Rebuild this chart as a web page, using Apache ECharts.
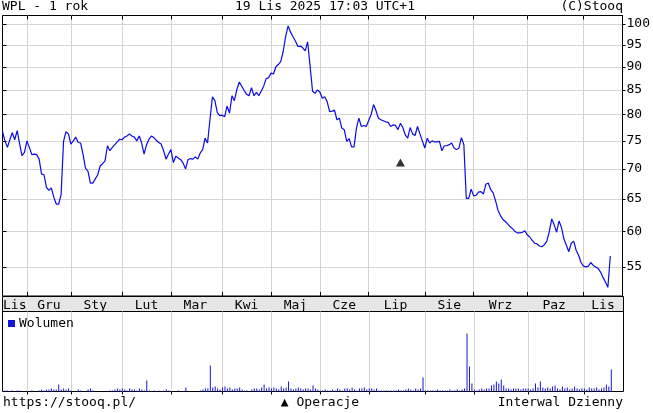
<!DOCTYPE html>
<html>
<head>
<meta charset="utf-8">
<script src="https://cdn.jsdelivr.net/npm/echarts@6/dist/echarts.min.js"></script>
<style>
  html, body { margin: 0; padding: 0; background: #fff; }
  #chart { width: 653px; height: 413px; }
</style>
</head>
<body>
<div id="chart"></div>
<script>
// miesiace na osi i liczba sesji w kazdym z nich
var months = ['Lis', 'Gru', 'Sty', 'Lut', 'Mar', 'Kwi', 'Maj', 'Cze', 'Lip', 'Sie', 'Wrz', 'Paz', 'Lis'];
var monthDays = [10, 18, 21, 20, 21, 20, 20, 20, 23, 20, 22, 23, 12];
var emptySlots = 5;

var yTicks = [55, 60, 65, 70, 75, 80, 85, 90, 95, 100];

// kurs zamkniecia, sesja po sesji
var price = [
  76.7, 75.0, 73.8, 75.2, 76.5, 75.2, 76.9, 74.5, 72.3, 72.9,
  75.0, 73.8, 72.5, 72.6, 72.5, 71.7, 69.1, 69.0, 66.9, 66.4, 66.8, 65.3, 64.2, 64.2, 65.7, 74.9, 76.7, 76.3,
  74.4, 75.0, 75.7, 74.7, 74.6, 72.5, 70.1, 69.6, 67.6, 67.6, 68.3, 69.0, 70.5, 70.9, 71.4, 74.1, 73.2, 73.8, 74.3, 74.8, 75.3,
  75.2, 75.7, 75.9, 76.3, 75.9, 75.7, 75.0, 75.9, 74.6, 72.6, 74.3, 75.3, 75.9, 75.6, 75.1, 74.7, 74.4, 73.2, 71.7, 72.6,
  73.4, 71.1, 72.2, 71.9, 71.6, 71.0, 70.0, 71.6, 71.8, 71.7, 72.1, 71.7, 72.8, 73.4, 75.5, 74.6, 79.1, 83.6, 82.8, 80.4, 79.8,
  79.9, 79.6, 81.7, 80.3, 83.8, 82.8, 85.1, 86.7, 85.8, 84.9, 84.1, 83.8, 85.5, 83.8, 84.5, 83.8, 84.8, 85.8, 87.4, 87.6,
  88.6, 88.4, 90.0, 90.5, 91.2, 93.5, 97.0, 99.5, 98.0, 96.9, 95.9, 94.6, 94.7, 94.3, 93.6, 95.7, 90.2, 84.8, 84.3, 85.0,
  84.6, 83.3, 83.6, 82.6, 80.6, 80.7, 80.9, 79.0, 79.3, 77.4, 77.1, 74.9, 75.4, 73.9, 73.9, 77.4, 79.3, 77.7, 77.9, 77.7,
  78.8, 80.0, 82.0, 80.8, 79.3, 79.0, 78.8, 78.6, 78.5, 77.7, 78.0, 77.9, 77.1, 78.3, 77.5, 76.1, 75.5, 77.5, 76.3, 76.0, 77.7, 76.3, 75.0,
  73.7, 75.5, 74.6, 75.0, 74.8, 74.8, 74.9, 73.2, 74.1, 74.1, 74.3, 74.6, 73.7, 73.4, 73.7, 75.6, 74.3, 65.1, 65.1, 66.6,
  65.5, 65.6, 66.1, 66.2, 65.8, 67.4, 67.6, 66.5, 66.0, 64.7, 63.2, 62.4, 61.8, 61.5, 61.1, 60.7, 60.4, 60.0, 59.8, 59.8, 59.9, 60.1,
  59.5, 59.2, 58.7, 58.3, 58.2, 57.9, 57.8, 58.1, 58.6, 60.0, 61.9, 61.0, 59.9, 61.6, 60.6, 58.9, 58.0, 57.1, 58.3, 58.6, 57.3, 56.6, 55.6,
  55.1, 55.0, 55.1, 55.6, 55.2, 55.0, 54.8, 54.3, 53.6, 53.0, 52.3, 56.5
];

// wolumen (tys. szt.)
var volume = [
  0, 1, 1, 0, 1, 0, 1, 1, 0, 0,
  0, 0, 1, 0, 0, 1, 2, 1, 2, 2, 3, 2, 2, 7, 2, 3, 2, 3,
  1, 0, 0, 2, 1, 0, 0, 2, 3, 1, 0, 0, 0, 0, 0, 0, 1, 1, 2, 3, 2,
  3, 2, 1, 3, 2, 2, 1, 3, 2, 1, 11, 1, 0, 1, 0, 1, 0, 1, 2, 1,
  0, 0, 0, 1, 0, 0, 4, 0, 0, 0, 0, 0, 1, 2, 3, 3, 26, 4, 5, 3, 2,
  4, 5, 3, 4, 2, 3, 3, 4, 2, 1, 1, 0, 2, 3, 3, 2, 4, 7, 3, 4,
  3, 4, 3, 2, 5, 3, 4, 10, 3, 2, 3, 4, 3, 2, 3, 3, 2, 6, 3, 2,
  1, 1, 2, 1, 1, 2, 1, 3, 2, 1, 3, 3, 2, 4, 2, 1, 3, 3, 4, 2,
  3, 3, 2, 3, 1, 1, 1, 1, 1, 1, 1, 1, 2, 1, 1, 2, 3, 2, 1, 3, 2, 3, 14,
  1, 1, 1, 1, 1, 2, 1, 1, 1, 1, 2, 1, 1, 2, 1, 2, 3, 58, 25, 8,
  2, 1, 2, 3, 2, 3, 3, 6, 7, 10, 8, 12, 6, 3, 3, 2, 3, 3, 3, 2, 3, 3,
  3, 2, 3, 8, 4, 10, 4, 3, 4, 3, 5, 6, 3, 2, 5, 3, 4, 2, 3, 5, 3, 2, 3,
  3, 2, 4, 3, 3, 4, 2, 3, 4, 7, 5, 22
];

// operacje (dywidenda) - [indeks sesji, poziom znacznika]
var operacje = [[163, 71.1]];

var FONT = '"DejaVu Sans Mono", monospace';

// poczatki miesiecy i srodki etykiet
var total = price.length + emptySlots;
var cats = [];
for (var i = 0; i < total; i++) cats.push(String(i));
var starts = {}, mids = {}, pos = 0;
monthDays.forEach(function (d, m) {
  if (m > 0) starts[pos] = true;
  var end = (m === monthDays.length - 1) ? total - 1 : pos + d;
  mids[Math.floor((pos + end) / 2)] = months[m];
  pos += d;
});
var isStart = function (idx) { return !!starts[idx]; };
var isMid = function (idx) { return mids[idx] !== undefined; };

var mychart = echarts.init(document.getElementById('chart'), null, { renderer: 'canvas' });

var gridLine = { show: true, interval: isStart, lineStyle: { color: '#d4d4d4', width: 1 } };

var option = {
  animation: false,
  backgroundColor: '#fff',
  textStyle: { fontFamily: FONT },
  grid: [
    { left: 2.5, top: 15.5, width: 621, height: 280.5, show: true, borderColor: '#000', borderWidth: 1, backgroundColor: '#fff' },
    { left: 2.5, top: 311.5, width: 621, height: 80, show: true, borderColor: '#000', borderWidth: 1, backgroundColor: '#fff' }
  ],
  legend: {
    data: ['Wolumen'],
    left: 8, top: 317,
    padding: 0,
    icon: 'rect',
    itemWidth: 7, itemHeight: 7, itemGap: 4,
    textStyle: { fontFamily: FONT, fontSize: 13, color: '#000', padding: [0, 0, 0, -1] }
  },
  xAxis: [
    {
      gridIndex: 0, type: 'category', data: cats, boundaryGap: false, position: 'bottom',
      axisLine: { show: false },
      axisTick: { show: true, inside: true, length: 4, interval: isStart, lineStyle: { color: '#000' } },
      axisLabel: {
        interval: isMid, margin: 3, color: '#000', fontFamily: FONT, fontSize: 13,
        formatter: function (v, idx) { return mids[idx] || ''; }
      },
      splitLine: gridLine
    },
    {
      gridIndex: 0, type: 'category', data: cats, boundaryGap: false, position: 'top',
      axisLine: { show: false },
      axisTick: { show: true, inside: true, length: 4, interval: isStart, lineStyle: { color: '#000' } },
      axisLabel: { show: false },
      splitLine: { show: false }
    },
    {
      gridIndex: 1, type: 'category', data: cats, boundaryGap: false, position: 'top',
      axisLine: { show: false },
      axisTick: { show: true, inside: true, length: 3, interval: isStart, lineStyle: { color: '#000' } },
      axisLabel: { show: false },
      splitLine: gridLine
    }
  ],
  yAxis: [
    {
      gridIndex: 0, type: 'log', logBase: 10, min: 51.2, max: 102.1, position: 'right',
      axisLine: { show: true, lineStyle: { color: '#000' } },
      axisTick: { show: true, length: 3, customValues: yTicks, lineStyle: { color: '#000' } },
      axisLabel: { customValues: yTicks, margin: 4, color: '#000', fontFamily: FONT, fontSize: 13 },
      splitLine: { show: true, lineStyle: { color: '#d4d4d4' } }
    },
    {
      gridIndex: 0, type: 'log', logBase: 10, min: 51.2, max: 102.1, position: 'left',
      axisLine: { show: false },
      axisTick: { show: true, inside: true, length: 4, customValues: yTicks, lineStyle: { color: '#000' } },
      axisLabel: { show: false },
      splitLine: { show: false }
    },
    {
      gridIndex: 1, type: 'value', min: 0, max: 80, show: false
    }
  ],
  series: [
    {
      name: 'WPL', type: 'line', xAxisIndex: 0, yAxisIndex: 0,
      data: price, showSymbol: false, silent: true,
      lineStyle: { color: '#0a0ae6', width: 1.2 }
    },
    {
      name: 'Operacje', type: 'scatter', xAxisIndex: 0, yAxisIndex: 0,
      data: operacje, symbol: 'triangle', symbolSize: [9, 8], silent: true,
      itemStyle: { color: '#000' }
    },
    {
      name: 'Wolumen', type: 'bar', xAxisIndex: 2, yAxisIndex: 2,
      data: volume, barWidth: 1, silent: true,
      itemStyle: { color: '#1515d8' }
    }
  ],
  graphic: [
    // pasek z nazwami miesiecy
    { type: 'rect', z: -1, shape: { x: 2.5, y: 296.5, width: 621, height: 15 }, style: { fill: '#e6e6e6', stroke: '#000', lineWidth: 1 } },
    { type: 'text', x: 2, y: 7, style: { text: 'WPL - 1 rok', font: '13px ' + FONT, fill: '#000', align: 'left', verticalAlign: 'middle' } },
    { type: 'text', x: 325, y: 7, style: { text: '19 Lis 2025 17:03 UTC+1', font: '13px ' + FONT, fill: '#000', align: 'center', verticalAlign: 'middle' } },
    { type: 'text', x: 623, y: 7, style: { text: '(C)Stooq', font: '13px ' + FONT, fill: '#000', align: 'right', verticalAlign: 'middle' } },
    { type: 'text', x: 3, y: 403, style: { text: 'https://stooq.pl/', font: '13px ' + FONT, fill: '#000', align: 'left', verticalAlign: 'middle' } },
    { type: 'text', x: 320, y: 403, style: { text: '\u25B2 Operacje', font: '13px ' + FONT, fill: '#000', align: 'center', verticalAlign: 'middle' } },
    { type: 'text', x: 623, y: 403, style: { text: 'Interwal Dzienny', font: '13px ' + FONT, fill: '#000', align: 'right', verticalAlign: 'middle' } }
  ]
};

mychart.setOption(option);
</script>
</body>
</html>
